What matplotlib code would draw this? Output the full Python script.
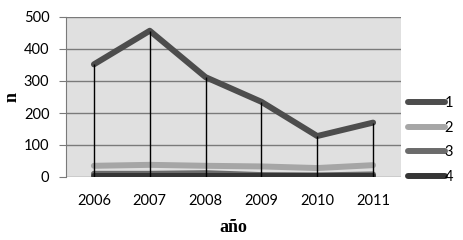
import matplotlib
matplotlib.use("Agg")
import matplotlib.pyplot as plt

plt.rcParams["font.family"] = ["Lato", "DejaVu Sans"]

years = ["2006", "2007", "2008", "2009", "2010", "2011"]
s1 = [352, 457, 312, 235, 128, 170]
s2 = [35, 38, 35, 33, 28, 37]
s3 = [10, 10, 12, 6, 5, 8]
s4 = [2, 2, 2, 2, 2, 2]
series_names = ["1", "2", "3", "4"]
colors = ["#4d4d4d", "#a6a6a6", "#6b6b6b", "#363636"]

fig = plt.figure(figsize=(4.64, 2.4), dpi=100)
ax = fig.add_axes([66/464, 1-177/240, (401-66)/464, (177-17)/240])
ax.set_facecolor("#e0e0e0")
x = list(range(len(years)))

for i, v in enumerate(s1):
    ax.vlines(i, 0, v, color="black", lw=1.0, zorder=4)

for vals, c, name in zip([s1, s2, s3, s4], colors, series_names):
    ax.plot(x, vals, color=c, lw=4.3, solid_capstyle="round", solid_joinstyle="round", label=name, zorder=3)

ax.set_xlim(-0.5, 5.5)
ax.set_ylim(0, 500)
ax.set_yticks([0, 100, 200, 300, 400, 500])
ax.set_xticks(x)
ax.set_xticklabels(years)
ax.yaxis.grid(True, color="#7a7a7a", lw=1.0)
ax.set_axisbelow(True)
for s in ["top", "right", "bottom"]:
    ax.spines[s].set_visible(False)
ax.spines["left"].set_color("#7a7a7a")
ax.tick_params(axis="y", length=5, color="#7a7a7a", labelsize=10.5, pad=7)
ax.tick_params(axis="x", length=0, labelsize=10.5, pad=12)
fig.text(12/464, 1-97/240, "n", rotation=90, ha="center", va="center",
         fontfamily="Liberation Serif", fontweight="bold", fontsize=13)
ax.set_xlabel("año", fontfamily="Liberation Serif", fontweight="bold", fontsize=13, labelpad=8)

leg = ax.legend(loc="center left", bbox_to_anchor=(1.0, 0.232), frameon=False,
                handlelength=2.5, handletextpad=0.0, labelspacing=0.72, fontsize=10.5,
                borderaxespad=0.1)

fig.savefig("out.png", dpi=100, facecolor="white")
